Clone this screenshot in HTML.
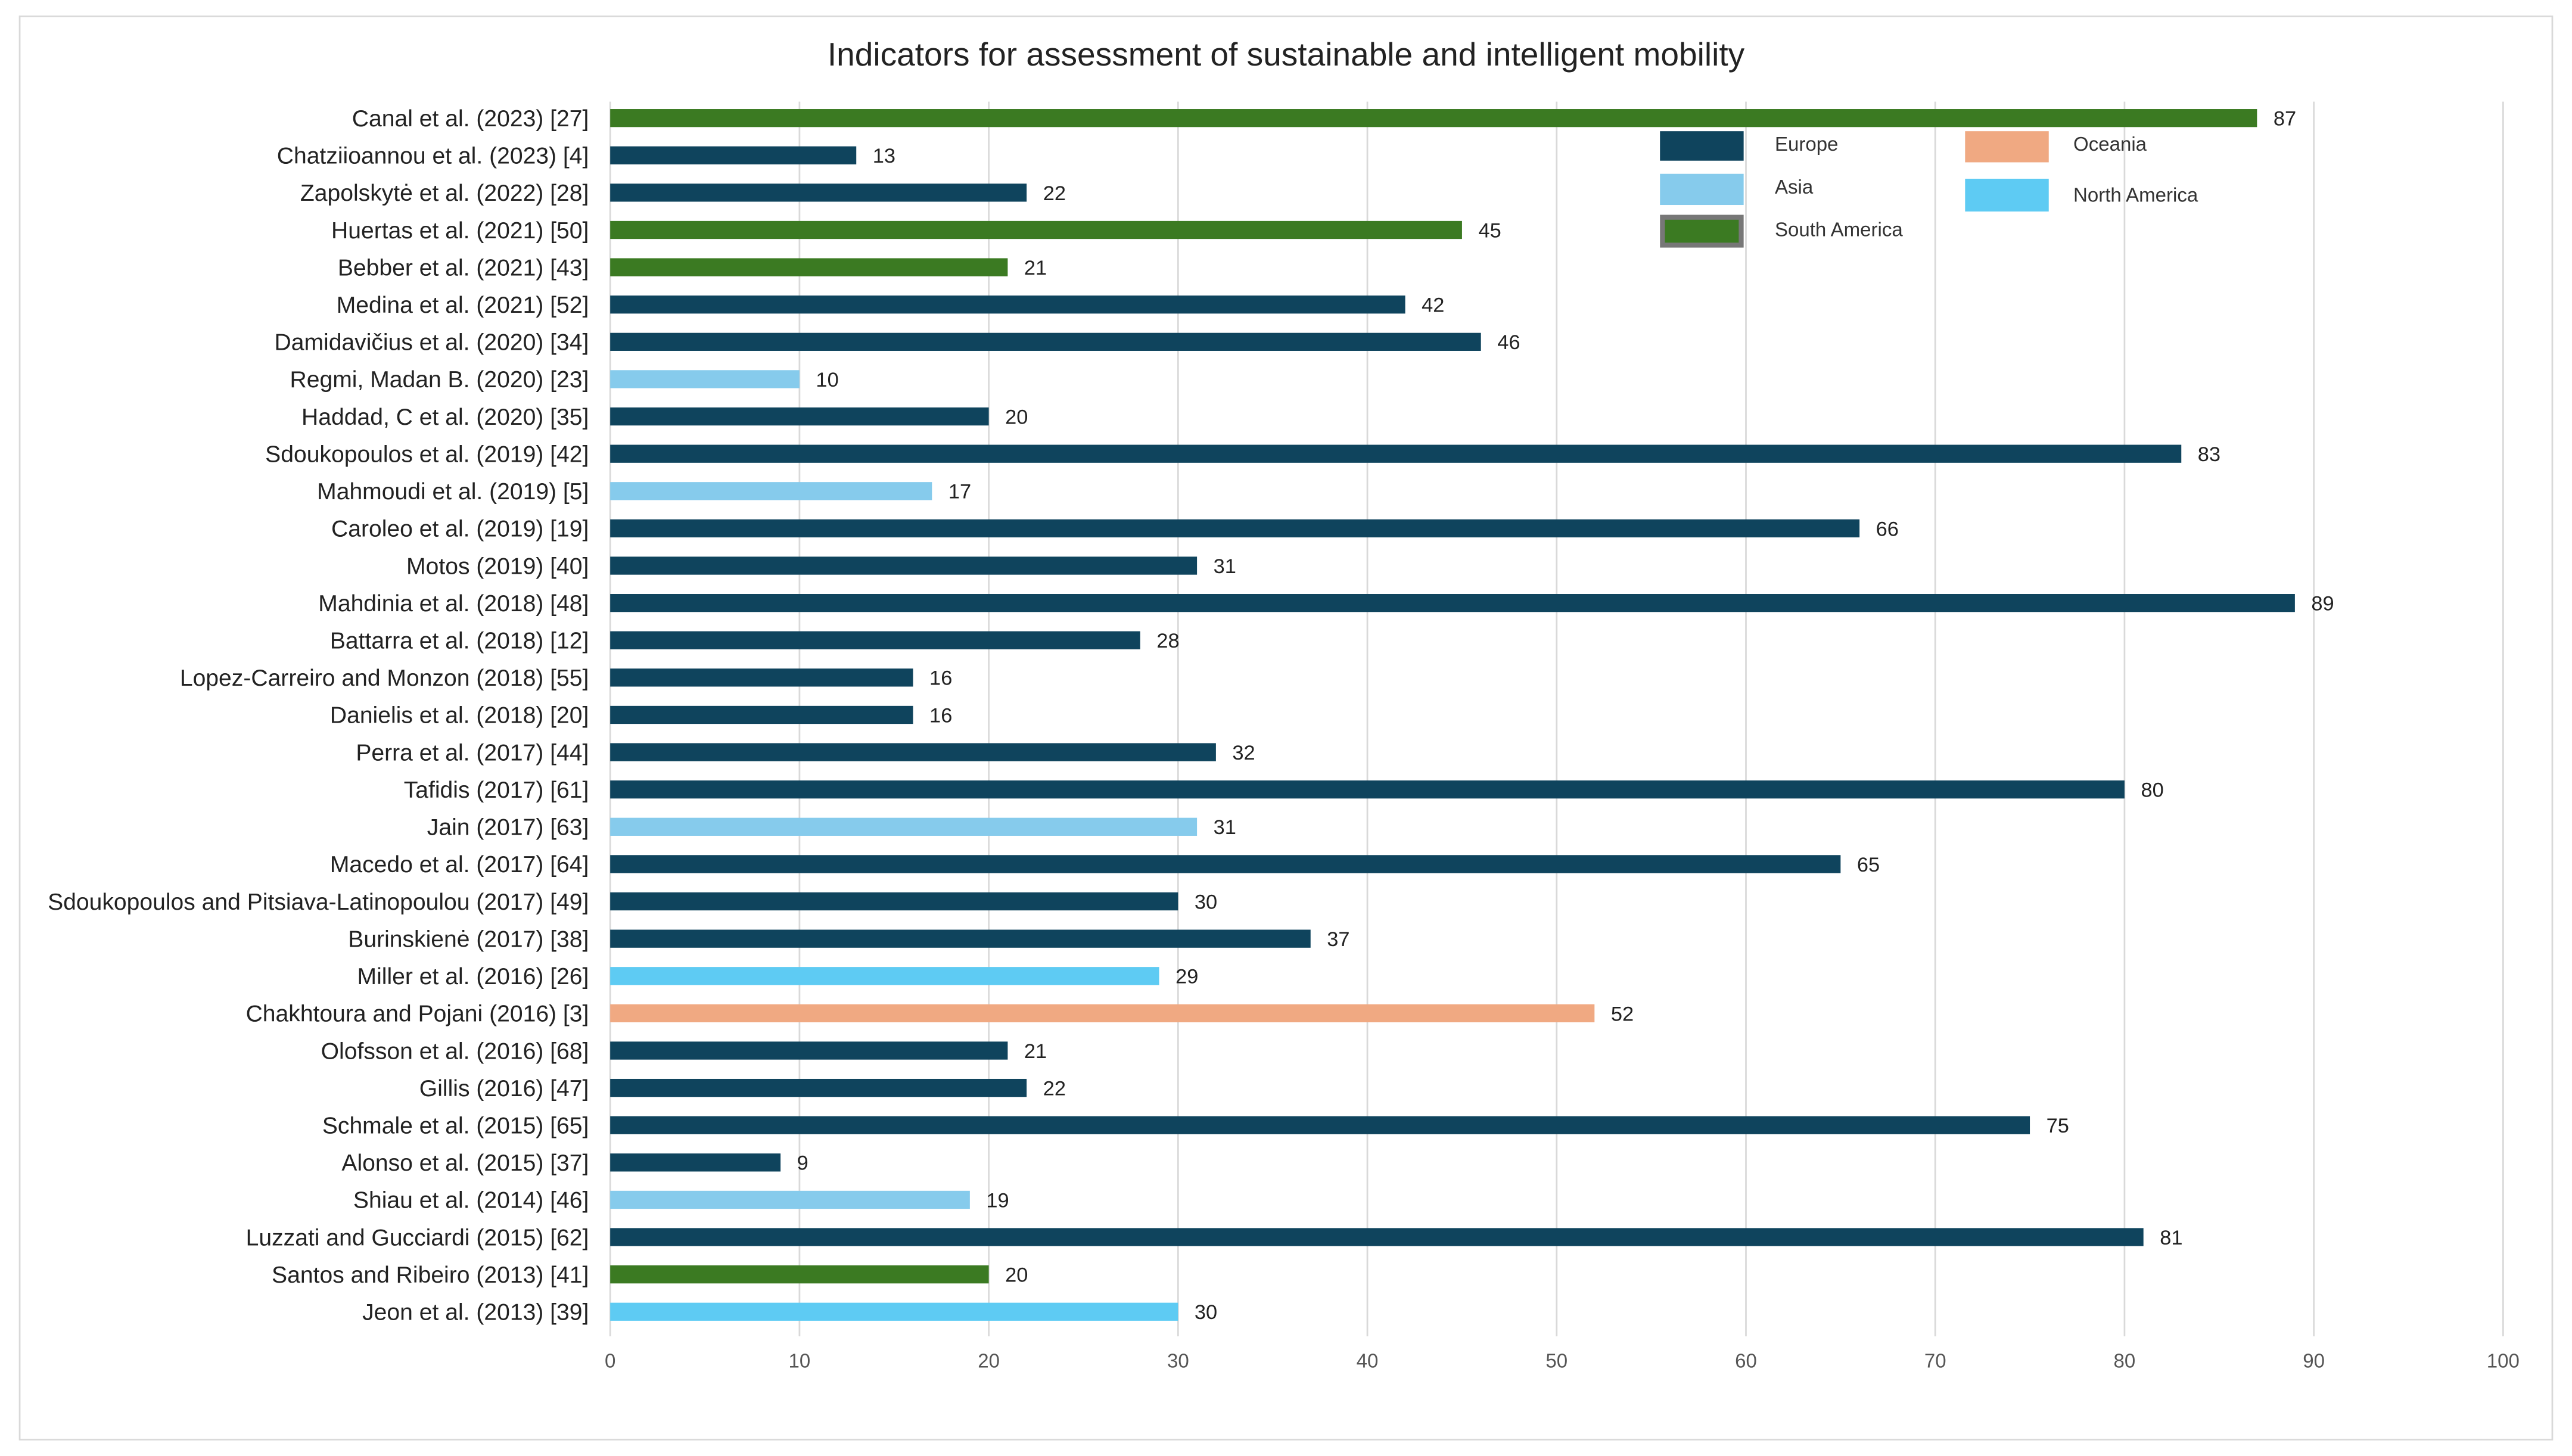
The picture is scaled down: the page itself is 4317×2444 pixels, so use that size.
<!DOCTYPE html>
<html><head><meta charset="utf-8"><style>
html,body{margin:0;padding:0;background:#fff}
svg{display:block}
text{font-family:"Liberation Sans",sans-serif}
</style></head><body>
<svg id="chart" width="4317" height="2444" viewBox="0 0 1568 888" preserveAspectRatio="none" xmlns="http://www.w3.org/2000/svg">
<rect x="12" y="10" width="1544" height="868" fill="#fff" stroke="#d9d9d9" stroke-width="1"/>
<text x="784" y="40" text-anchor="middle" font-size="20" fill="#222">Indicators for assessment of sustainable and intelligent mobility</text>
<g id="grid"></g><g id="bars"></g><g id="ticks"></g>
<g font-size="12" fill="#333">
<rect x="1012" y="80" width="51" height="18" fill="#0f445d"/>
<text x="1082" y="92">Europe</text>
<rect x="1012" y="106" width="51" height="19" fill="#86cbec"/>
<text x="1082" y="118">Asia</text>
<rect x="1013.5" y="132.5" width="48" height="17" fill="#3b7a22" stroke="#777" stroke-width="3"/>
<text x="1082" y="144">South America</text>
<rect x="1198" y="80" width="51" height="19" fill="#f0a982"/>
<text x="1264" y="92">Oceania</text>
<rect x="1198" y="109" width="51" height="20" fill="#5ecbf3"/>
<text x="1264" y="123">North America</text>
</g>
</svg>
<script>
const categories=["Canal et al. (2023) [27]","Chatziioannou et al. (2023) [4]","Zapolskytė et al. (2022) [28]","Huertas et al. (2021) [50]","Bebber et al. (2021) [43]","Medina et al. (2021) [52]","Damidavičius et al. (2020) [34]","Regmi, Madan B. (2020) [23]","Haddad, C et al. (2020) [35]","Sdoukopoulos et al. (2019) [42]","Mahmoudi et al. (2019) [5]","Caroleo et al. (2019) [19]","Motos (2019)  [40]","Mahdinia et al. (2018) [48]","Battarra et al. (2018) [12]","Lopez-Carreiro and Monzon (2018) [55]","Danielis et al. (2018) [20]","Perra et al. (2017) [44]","Tafidis (2017) [61]","Jain (2017) [63]","Macedo et al. (2017) [64]","Sdoukopoulos and Pitsiava-Latinopoulou (2017) [49]","Burinskienė (2017) [38]","Miller et al. (2016) [26]","Chakhtoura and Pojani (2016) [3]","Olofsson et al. (2016) [68]","Gillis (2016) [47]","Schmale et al. (2015) [65]","Alonso et al. (2015) [37]","Shiau et al. (2014) [46]","Luzzati and Gucciardi (2015) [62]","Santos and Ribeiro (2013) [41]","Jeon et al. (2013) [39]"];
const values=[87,13,22,45,21,42,46,10,20,83,17,66,31,89,28,16,16,32,80,31,65,30,37,29,52,21,22,75,9,19,81,20,30];
const regions=["SA","EU","EU","SA","SA","EU","EU","AS","EU","EU","AS","EU","EU","EU","EU","EU","EU","EU","EU","AS","EU","EU","EU","NA","OC","EU","EU","EU","EU","AS","EU","SA","NA"];
const tickValues=[0,10,20,30,40,50,60,70,80,90,100];
const colors={EU:"#0f445d",AS:"#86cbec",SA:"#3b7a22",OC:"#f0a982",NA:"#5ecbf3"};
const NS="http://www.w3.org/2000/svg";
const x=v=>372+v*11.54;
const y=i=>72+i*22.75;
function mk(tag,attrs,parent){const e=document.createElementNS(NS,tag);for(const k in attrs)e.setAttribute(k,attrs[k]);document.getElementById(parent).appendChild(e);return e;}
tickValues.forEach(t=>{
 const l=mk("line",{x1:x(t),x2:x(t),y1:62,y2:815,stroke:"#d9d9d9","stroke-width":1},"grid");
 
 
 const tx=mk("text",{x:x(t),y:834,"text-anchor":"middle","font-size":12,fill:"#555"},"ticks");
 tx.textContent=t;
 
 
});
categories.forEach((c,i)=>{
 const r=mk("rect",{x:x(0),y:y(i)-5.5,width:x(values[i])-x(0),height:11,fill:colors[regions[i]]},"bars");
 
 
 const v=mk("text",{x:x(values[i])+10,y:y(i)+4.5,"font-size":12.5,fill:"#222"},"bars");
 v.textContent=values[i];
 
 
 const lb=mk("text",{x:359,y:y(i)+5,"text-anchor":"end","font-size":14.2,fill:"#222"},"ticks");
 lb.textContent=c;
 
 
});
</script>
</body></html>
